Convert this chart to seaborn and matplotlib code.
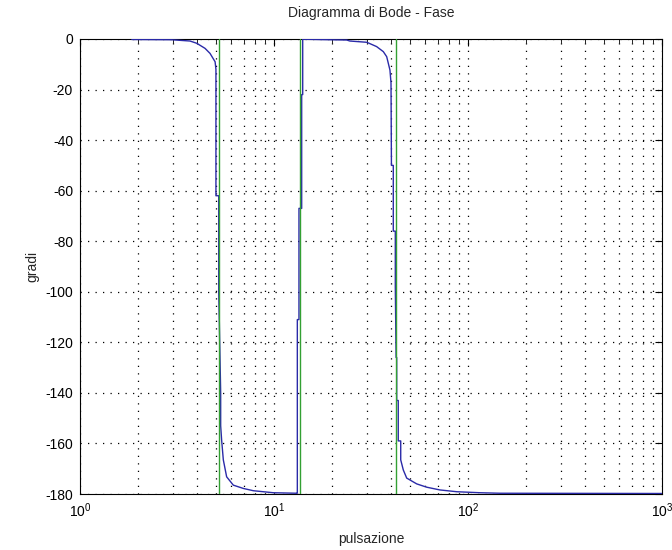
import numpy as np
import matplotlib
matplotlib.use("Agg")
import matplotlib.pyplot as plt
import seaborn as sns
from matplotlib.ticker import LogLocator, NullFormatter

# phase curve (rad/s, degrees)
omega = [1.85, 2.97, 3.69, 4.0, 4.41, 4.68, 4.97, 5.02, 5.02, 5.19, 5.19,
         5.25, 5.31, 5.31, 5.37, 5.48, 5.70, 6.17, 6.95, 7.82, 9.92, 13.1,
         13.19, 13.19, 13.45, 13.45, 13.89, 13.89, 14.06, 14.06, 19.4, 23.7,
         24.6, 30.1, 33.8, 36.6, 38.1, 39.6, 40.1, 40.3, 41.2, 41.2, 42.2,
         42.2, 42.6, 42.9, 42.9, 43.7, 43.7, 45.0, 45.0, 46.4, 48.3, 54.4,
         61.2, 71.7, 87.5, 115.3, 146.0, 1000.0]
phase = [-0.2, -0.3, -0.8, -1.7, -3.7, -5.7, -9.0, -12.0, -62.0, -62.0, -100.0,
         -120.0, -140.0, -153.0, -158.6, -166.5, -173.2, -176.5, -177.8, -178.7, -179.5, -179.7,
         -179.7, -111.0, -111.0, -67.0, -67.0, -22.0, -22.0, -0.1, -0.3, -0.4,
         -0.8, -1.3, -3.0, -5.0, -7.0, -12.3, -17.4, -50.0, -50.0, -76.0, -76.0,
         -98.0, -126.0, -126.0, -143.0, -143.0, -159.0, -159.0, -166.5, -170.5, -173.7, -176.0,
         -177.3, -178.4, -179.1, -179.5, -179.7, -179.8]
markers = [5.21, 13.6, 42.5]
y_ticks = [-180, -160, -140, -120, -100, -80, -60, -40, -20, 0]

sns.set_style("white")
plt.rcParams['font.family'] = ['Liberation Sans', 'DejaVu Sans']
plt.rcParams['mathtext.fontset'] = 'custom'
plt.rcParams['mathtext.rm'] = 'Liberation Sans'
plt.rcParams['axes.unicode_minus'] = False

fig = plt.figure(figsize=(6.72, 5.5), dpi=100)
ax = fig.add_axes([80 / 672, 1 - 494 / 550, 582 / 672, 455 / 550])

sns.lineplot(x=omega, y=phase, sort=False, estimator=None,
             color='#2a2aa8', linewidth=1.0, ax=ax, zorder=3)
for w in markers:
    ax.axvline(w, color='#33a033', linewidth=1.0, zorder=4)

ax.set_xscale('log')
ax.set_xlim(1, 1000)
ax.set_ylim(-180, 0)
ax.set_yticks(y_ticks)
ax.xaxis.set_minor_locator(LogLocator(base=10, subs=np.arange(2, 10)))
ax.xaxis.set_minor_formatter(NullFormatter())

dots = (0, (1, 5))
ax.grid(True, which='both', axis='x', linestyle=dots, color='black', linewidth=0.9)
ax.grid(True, which='major', axis='y', linestyle=dots, color='black', linewidth=0.9)
ax.tick_params(which='both', direction='in', top=True, right=True,
               labelsize=10, colors='black')
ax.tick_params(which='major', length=5, pad=5)
ax.tick_params(which='minor', length=3)
for s in ax.spines.values():
    s.set_linewidth(0.8)
    s.set_color('black')

ax.set_title('Diagramma di Bode - Fase', fontsize=10, pad=16)
ax.set_xlabel('pulsazione', fontsize=10, labelpad=9)
ax.set_ylabel('gradi', fontsize=10, labelpad=4)

fig.savefig('out.png', dpi=100)
